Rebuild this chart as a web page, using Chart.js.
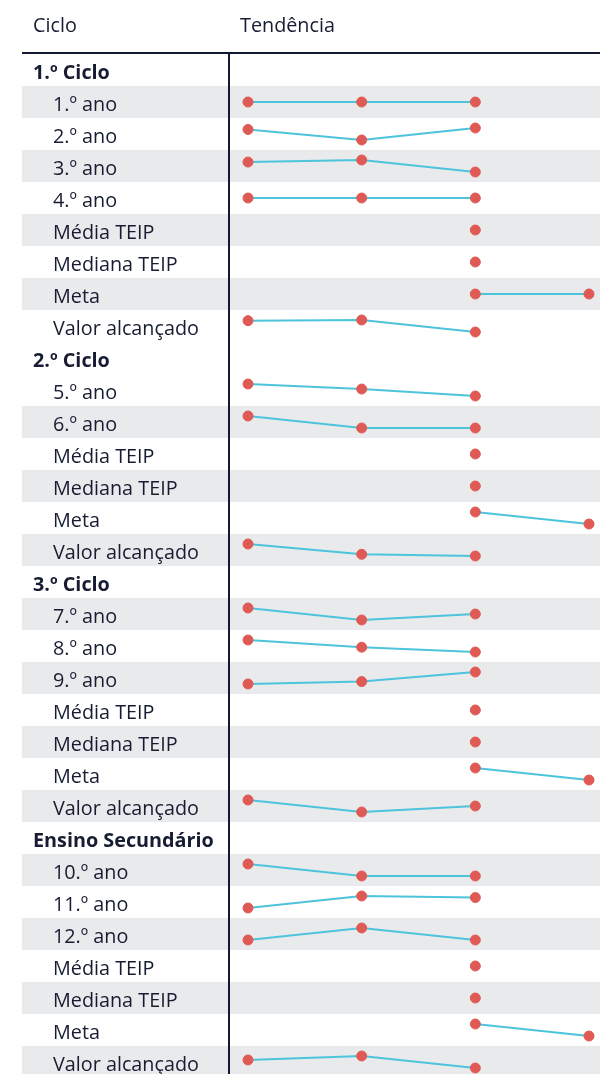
<!DOCTYPE html>
<html>
<head>
<meta charset="utf-8">
<script src="https://cdn.jsdelivr.net/npm/chart.js@4/dist/chart.umd.min.js"></script>
<style>
  body { margin: 0; background: #fff; font-family: "Open Sans", sans-serif; font-size: 19.8px; color: #161c32; }
  #tabela { position: absolute; left: 22px; top: 0; width: 578px; }
  .cab { height: 52px; border-bottom: 2px solid #121a33; position: relative; line-height: 52px; }
  .cab span { position: absolute; top: -1px; }
  .linha { height: 32px; display: flex; line-height: 32px; }
  .linha.par { background: #e9eaec; }
  .rot { width: 206px; border-right: 2px solid #121a33; white-space: nowrap; }
  .rot span { position: relative; top: 2px; }
  .grupo .rot { font-weight: 700; padding-left: 11px; width: 195px; }
  .item .rot { padding-left: 31px; width: 175px; }
  .spark { width: 370px; height: 32px; }
  canvas { display: block; }
</style>
</head>
<body>
<div id="tabela">
  <div class="cab"><span style="left:11px">Ciclo</span><span style="left:218px">Tendência</span></div>
</div>
<script>
// anos letivos (eixo x das tendências)
const anos = ['2019/20', '2020/21', '2021/22', '2022/23'];
const ciclos = ['1.º Ciclo', '2.º Ciclo', '3.º Ciclo', 'Ensino Secundário'];

const linhas1 = ['1.º ano', '2.º ano', '3.º ano', '4.º ano', 'Média TEIP', 'Mediana TEIP', 'Meta', 'Valor alcançado'];
const valores1 = [
  [100, 100, 100, null],
  [97.8, 94.9, 98.2, null],
  [97.5, 98.0, 95.1, null],
  [100, 100, 100, null],
  [null, null, 96.4, null],
  [null, null, 97.1, null],
  [null, null, 97.0, 97.0],
  [98.8, 98.9, 97.1, null]
];

const linhas2 = ['5.º ano', '6.º ano', 'Média TEIP', 'Mediana TEIP', 'Meta', 'Valor alcançado'];
const valores2 = [
  [97.0, 95.7, 93.9, null],
  [96.2, 93.5, 93.5, null],
  [null, null, 94.6, null],
  [null, null, 95.3, null],
  [null, null, 95.0, 94.0],
  [96.0, 93.6, 93.2, null]
];

const linhas3 = ['7.º ano', '8.º ano', '9.º ano', 'Média TEIP', 'Mediana TEIP', 'Meta', 'Valor alcançado'];
const valores3 = [
  [92.4, 88.6, 90.5, null],
  [93.0, 90.6, 89.0, null],
  [88.0, 88.8, 92.0, null],
  [null, null, 89.7, null],
  [null, null, 90.8, null],
  [null, null, 90.0, 89.0],
  [91.1, 87.9, 89.5, null]
];

const linhas4 = ['10.º ano', '11.º ano', '12.º ano', 'Média TEIP', 'Mediana TEIP', 'Meta', 'Valor alcançado'];
const valores4 = [
  [88.5, 85.2, 85.2, null],
  [90.1, 95.4, 94.7, null],
  [92.3, 95.6, 92.3, null],
  [null, null, 90.2, null],
  [null, null, 91.0, null],
  [null, null, 92.0, 91.0],
  [92.8, 93.5, 91.4, null]
];

const grupos = [
  [linhas1, valores1],
  [linhas2, valores2],
  [linhas3, valores3],
  [linhas4, valores4]
];

const tabela = document.getElementById('tabela');
let idx = 0;

function addLinha(texto, classe, valores) {
  const div = document.createElement('div');
  div.className = 'linha ' + classe;
  if (classe === 'item' && idx % 2 === 1) div.classList.add('par');
  div.innerHTML = '<div class="rot"><span></span></div><div class="spark"></div>';
  div.querySelector('.rot span').textContent = texto;
  tabela.appendChild(div);
  idx++;
  if (!valores) return;

  const cv = document.createElement('canvas');
  cv.width = 370; cv.height = 32;
  div.querySelector('.spark').appendChild(cv);

  // escala própria de cada linha: min/max ocupam a faixa central da célula
  const nums = valores.filter(v => v !== null);
  const hi = Math.max(...nums), lo = Math.min(...nums);
  const folga = hi === lo ? 1 : (hi - lo) * 10 / 12;

  new Chart(cv, {
    type: 'line',
    data: {
      labels: anos,
      datasets: [{
        data: valores,
        borderColor: '#4cc4dc',
        borderWidth: 2,
        backgroundColor: '#df5a55',
        pointBackgroundColor: '#df5a55',
        pointBorderColor: '#df5a55',
        pointRadius: 5,
        pointBorderWidth: 1,
        tension: 0,
        clip: false
      }]
    },
    options: {
      responsive: false,
      animation: false,
      events: [],
      layout: { autoPadding: false, padding: { left: 18, right: 11, top: 0, bottom: 0 } },
      plugins: { legend: { display: false }, tooltip: { enabled: false } },
      scales: {
        x: { display: false },
        y: { display: false, min: lo - folga, max: hi + folga }
      }
    }
  });
}

grupos.forEach(([linhas, valores], g) => {
  addLinha(ciclos[g], 'grupo', null);
  linhas.forEach((t, i) => addLinha(t, 'item', valores[i]));
});
</script>
</body>
</html>
